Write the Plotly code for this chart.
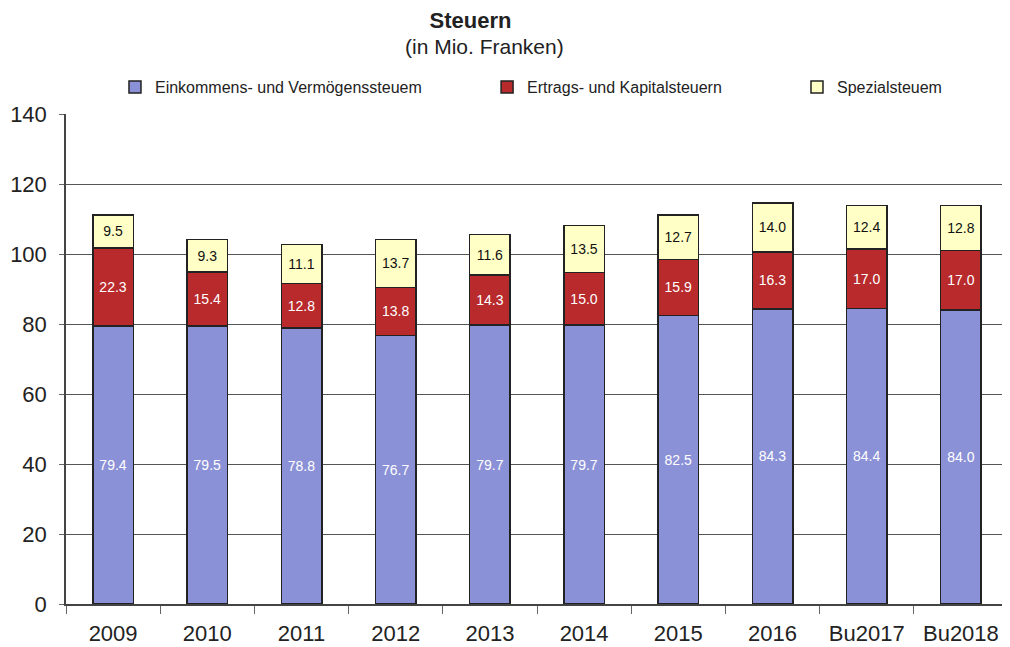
import plotly.graph_objects as go

# Steuern in Mio. Franken
jahre = ['2009', '2010', '2011', '2012', '2013', '2014', '2015', '2016', 'Bu2017', 'Bu2018']
einkommen = [79.4, 79.5, 78.8, 76.7, 79.7, 79.7, 82.5, 84.3, 84.4, 84.0]
ertrag = [22.3, 15.4, 12.8, 13.8, 14.3, 15.0, 15.9, 16.3, 17.0, 17.0]
spezial = [9.5, 9.3, 11.1, 13.7, 11.6, 13.5, 12.7, 14.0, 12.4, 12.8]

font = 'Liberation Sans, Arial, sans-serif'

fig = go.Figure()
fig.add_bar(x=jahre, y=einkommen, name='Einkommens- und Vermögenssteuem',
            marker=dict(color='#8b91d6', line=dict(color='#222', width=1.5)),
            text=[f'{v:.1f}' for v in einkommen], textposition='inside',
            insidetextanchor='middle', textfont=dict(color='white', size=14),
            legend='legend')
fig.add_bar(x=jahre, y=ertrag, name='Ertrags- und Kapitalsteuern',
            marker=dict(color='#b82a2c', line=dict(color='#222', width=1.5)),
            text=[f'{v:.1f}' for v in ertrag], textposition='inside',
            insidetextanchor='middle', textfont=dict(color='white', size=14),
            legend='legend2')
fig.add_bar(x=jahre, y=spezial, name='Spezialsteuem',
            marker=dict(color='#ffffc6', line=dict(color='#222', width=1.5)),
            text=[f'{v:.1f}' for v in spezial], textposition='inside',
            insidetextanchor='middle', textfont=dict(color='#111', size=14),
            legend='legend3')

leg = dict(orientation='h', yanchor='middle', xanchor='left', y=1.055,
           font=dict(size=16, color='#222'), bgcolor='rgba(0,0,0,0)',
           itemwidth=30)

fig.update_layout(
    barmode='stack',
    bargap=0.57,
    showlegend=True,
    width=1010, height=647,
    margin=dict(l=58, r=10, t=106, b=51),
    paper_bgcolor='white', plot_bgcolor='white',
    font=dict(family=font, color='#222'),
    title=dict(text='<b>Steuern</b>', x=0.458, xanchor='center',
               y=0.981, yanchor='middle', font=dict(size=22, color='#222')),
    annotations=[dict(text='(in Mio. Franken)', x=0.444, y=1.137, xref='paper', yref='paper',
                      xanchor='center', yanchor='middle', showarrow=False,
                      font=dict(size=21, color='#222'))],
    legend=dict(leg, x=0.052),
    legend2=dict(leg, x=0.447),
    legend3=dict(leg, x=0.776),
    uniformtext=dict(minsize=14, mode='show'),
    xaxis=dict(showline=True, linecolor='#444', linewidth=1.5,
               ticks='outside', tickson='boundaries', ticklen=8, tickcolor='#666',
               ticklabelstandoff=9, automargin=False,
               tickfont=dict(size=22, color='#222')),
    yaxis=dict(range=[0, 140], dtick=20, showline=True, linecolor='#444', linewidth=1.5,
               showgrid=True, gridcolor='#555', gridwidth=1,
               ticks='outside', ticklen=5, tickcolor='#666', ticklabelstandoff=8,
               automargin=False,
               tickfont=dict(size=22, color='#222'), zeroline=False),
)

fig.write_html('out.html')
